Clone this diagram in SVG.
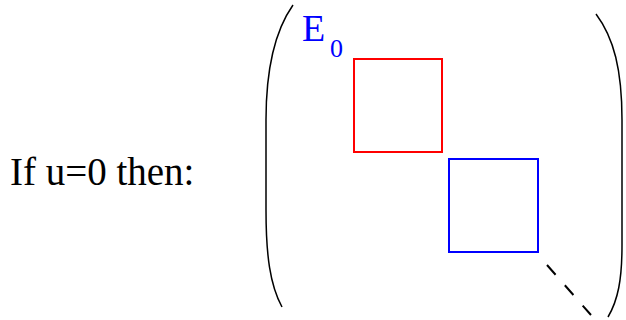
<svg xmlns="http://www.w3.org/2000/svg" width="626" height="320" viewBox="0 0 626 320">
<style>
.t{font-family:"Liberation Serif","Times New Roman",serif;}
.paren{fill:none;stroke:#000;stroke-width:1.5;}
.box{fill:none;stroke-width:2;}
</style>
<rect width="626" height="320" fill="#fff"/>
<g id="label"><text class="t" x="10" y="185" font-size="39" fill="#000">If u=0 then:</text></g>
<g id="left-paren"><path class="paren" d="M293,5 C274,32 266,70 266,120 L266,210 C266,255 270,285 282,307"/></g>
<g id="right-paren"><path class="paren" d="M596,14 C614,38 622,70 622,120 L622,245 C622,280 618,300 608,317"/></g>
<g id="E0"><text class="t" x="302" y="41" font-size="38" fill="#00f">E<tspan x="330" y="57" font-size="26">0</tspan></text></g>
<g id="red-block"><rect class="box" x="354" y="59" width="88" height="93" stroke="#f00"/></g>
<g id="blue-block"><rect class="box" x="449" y="159" width="89" height="93" stroke="#00f"/></g>
<g id="connectors"><line x1="547" y1="265" x2="591" y2="315" stroke="#000" stroke-width="2" stroke-dasharray="13,14"/></g>
</svg>
